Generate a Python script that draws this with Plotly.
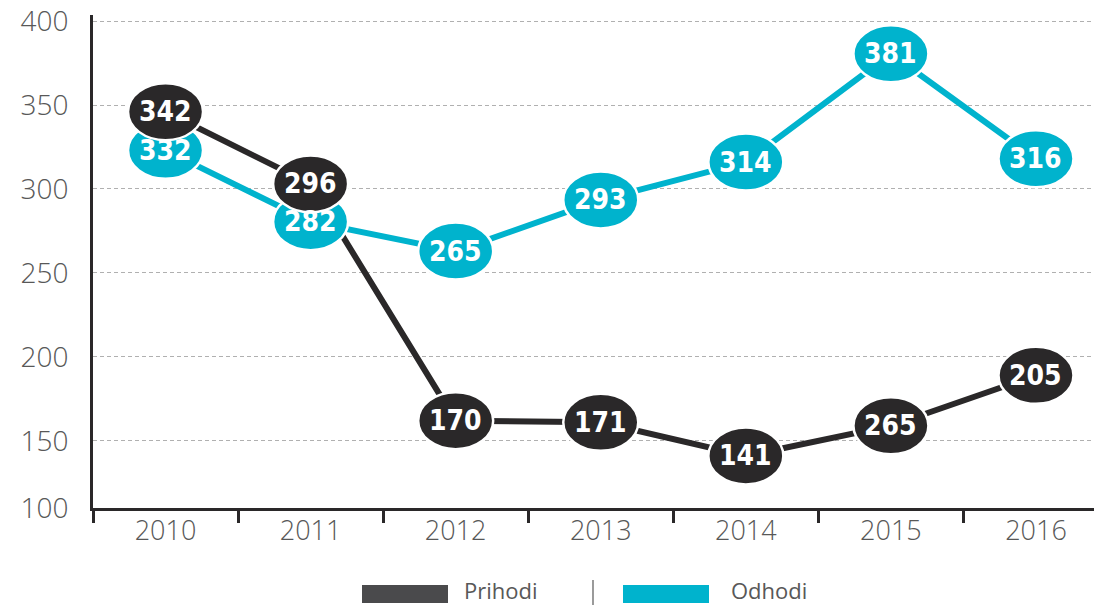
import plotly.graph_objects as go

# ---- data ----
years = ["2010", "2011", "2012", "2013", "2014", "2015", "2016"]
prihodi_y = [346, 303, 162, 161, 141, 159, 189]
prihodi_labels = ["342", "296", "170", "171", "141", "265", "205"]
odhodi_y = [323, 280.5, 263, 293.5, 316, 380.5, 318]
odhodi_labels = ["332", "282", "265", "293", "314", "381", "316"]
ytick_vals = [110, 150, 200, 250, 300, 350, 400]
ytick_text = ["100", "150", "200", "250", "300", "350", "400"]
series_names = ["Prihodi", "Odhodi"]

BLACK = "#2a2829"
CYAN = "#00b3cd"
GRAY = "#585858"

OFF = 8  # page body margin
W, H = 1102 - OFF, 605 - OFF
ML, MR, MT, MB = 93 - OFF, 0, 15 - OFF, 97
PW, PH = W - ML - MR, H - MT - MB

LABEL_FONT = "DejaVu Sans Condensed, Liberation Sans Narrow, Roboto, sans-serif"
AXIS_FONT = "Open Sans"

fig = go.Figure()
fig.add_trace(go.Scatter(x=years, y=odhodi_y, mode="lines",
                         line=dict(color=CYAN, width=6), name=series_names[1],
                         hoverinfo="skip"))
fig.add_trace(go.Scatter(x=years, y=prihodi_y, mode="lines",
                         line=dict(color=BLACK, width=6), name=series_names[0],
                         hoverinfo="skip"))

shapes = []
annotations = []
EW, EH = 75, 57
for ys, labels, col in [(odhodi_y, odhodi_labels, CYAN), (prihodi_y, prihodi_labels, BLACK)]:
    for i, (yv, lab) in enumerate(zip(ys, labels)):
        shapes.append(dict(type="circle", xref="x", yref="y",
                           xsizemode="pixel", ysizemode="pixel",
                           xanchor=i, yanchor=yv,
                           x0=-EW / 2, x1=EW / 2, y0=-EH / 2, y1=EH / 2,
                           fillcolor=col, line=dict(color="white", width=2.5),
                           layer="above"))
        annotations.append(dict(x=i, y=yv, xref="x", yref="y", text=lab,
                                showarrow=False,
                                font=dict(family=LABEL_FONT, size=28,
                                          color="white", weight="bold")))

# legend (manual), positions given in page pixels
def px_x(p):
    return (p - OFF - ML) / PW

def px_y(p):
    return (H - MB - (p - OFF)) / PH

legend_items = [(series_names[0], "#4a4a4c", 362, 463), (series_names[1], CYAN, 623, 730)]
for name, col, sx, tx in legend_items:
    shapes.append(dict(type="rect", xref="paper", yref="paper",
                       x0=px_x(sx), x1=px_x(sx + 86), y0=px_y(603), y1=px_y(585),
                       fillcolor=col, line=dict(width=0), layer="above"))
    annotations.append(dict(x=px_x(tx), y=px_y(590), xref="paper", yref="paper",
                            text=name, showarrow=False, xanchor="left", yanchor="middle",
                            height=22, valign="middle", borderpad=0,
                            font=dict(family=AXIS_FONT, size=22, color=GRAY)))
shapes.append(dict(type="line", xref="paper", yref="paper",
                   x0=px_x(593), x1=px_x(593), y0=px_y(605), y1=px_y(580),
                   line=dict(color=GRAY, width=1.2)))

fig.update_layout(
    width=W, height=H, autosize=False,
    margin=dict(l=ML, r=MR, t=MT, b=MB),
    paper_bgcolor="white", plot_bgcolor="white",
    showlegend=False,
    shapes=shapes, annotations=annotations,
    xaxis=dict(type="category", range=[-0.5, 6.455], tickson="boundaries",
               showline=True, linecolor=BLACK, linewidth=3,
               ticks="outside", ticklen=12, tickwidth=3, tickcolor=BLACK,
               showgrid=False, zeroline=False, ticklabelstandoff=-3,
               automargin=False,
               tickfont=dict(family=AXIS_FONT, size=27, color=GRAY, weight=300)),
    yaxis=dict(range=[110, 403.6], tickvals=ytick_vals, ticktext=ytick_text,
               showline=True, linecolor=BLACK, linewidth=3,
               ticks="", showgrid=True, gridcolor="#b0b0b0", gridwidth=1,
               griddash="4px,3px", zeroline=False, ticklabelstandoff=16,
               ticklabeloverflow="allow", automargin=False,
               tickfont=dict(family=AXIS_FONT, size=28, color=GRAY, weight=300)),
)

fig.write_html("out.html")
